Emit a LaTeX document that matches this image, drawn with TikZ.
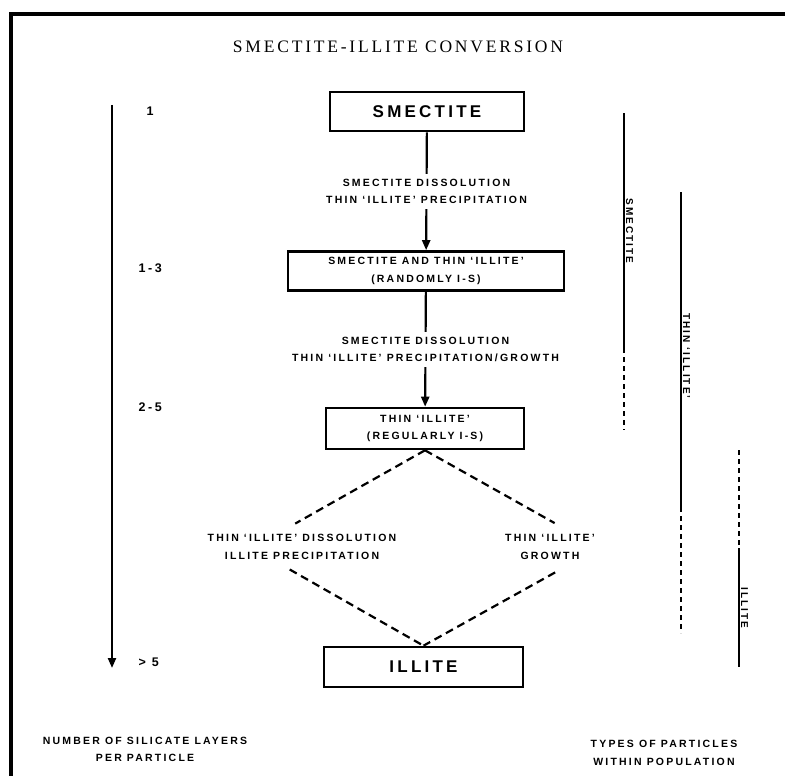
\documentclass[tikz,border=0pt]{standalone}
\usepackage{fontspec}
\setmainfont{Liberation Serif}
\newfontfamily\labfont[LetterSpace=21]{Liberation Sans}
\newfontfamily\boxfont[LetterSpace=19]{Liberation Sans}
\newfontfamily\titlefont[LetterSpace=16]{Liberation Serif}
\usetikzlibrary{arrows.meta,calc}
\begin{document}
\begin{tikzpicture}[x=1pt,y=-1pt,
  stagebox/.style={draw, line width=2.6pt, inner sep=0pt, align=center},
  bigtxt/.style={font=\boxfont\bfseries\fontsize{17}{19}\selectfont},
  smalltxt/.style={font=\labfont\bfseries\fontsize{10.5}{17.5}\selectfont, align=center},
  axistxt/.style={font=\labfont\bfseries\fontsize{12.5}{14}\selectfont},
  bartxt/.style={font=\labfont\bfseries\fontsize{10}{11}\selectfont, rotate=-90, anchor=south, inner sep=0.8pt},
  flowarrow/.style={line width=2.2pt, -{Triangle[length=10pt,width=8pt]}},
  dashline/.style={line width=2.2pt, dash pattern=on 8pt off 5pt},
  solidbar/.style={line width=2.6pt},
  dashbar/.style={line width=2.4pt, dash pattern=on 5pt off 4pt}]
\useasboundingbox (0,0) rectangle (785,776);
% frame
\draw[line width=3.5pt] (11,800) -- (11,14) -- (800,14);
% title
\node[font=\titlefont\fontsize{17.5}{19}\selectfont] (title) at (398,47) {SMECTITE-ILLITE CONVERSION};
% stage boxes
\node[stagebox, bigtxt, minimum width=194pt, minimum height=39pt] (b1) at (427,111.5) {SMECTITE};
\node[stagebox, smalltxt, minimum width=276pt, minimum height=39pt] (b2) at (426,271) {SMECTITE AND THIN ‘ILLITE’\\(RANDOMLY I-S)};
\node[stagebox, smalltxt, minimum width=198pt, minimum height=41pt] (b3) at (425,428.5) {THIN ‘ILLITE’\\(REGULARLY I-S)};
\node[stagebox, bigtxt, minimum width=199pt, minimum height=40pt] (b4) at (423.5,667) {ILLITE};
% flow arrows with labels
\draw[flowarrow] (b1) -- node[smalltxt, fill=white, inner sep=5pt] (l1) {SMECTITE DISSOLUTION\\THIN ‘ILLITE’ PRECIPITATION} (b2);
\draw[flowarrow] (b2) -- node[smalltxt, fill=white, inner sep=5pt] (l2) {SMECTITE DISSOLUTION\\THIN ‘ILLITE’ PRECIPITATION/GROWTH} (b3);
% dashed diamond
\coordinate (L) at (252,548);
\coordinate (R) at (599,548);
\draw[dashline] (b3.south) -- ($(b3.south)!0.75!(L)$);
\draw[dashline] (b3.south) -- ($(b3.south)!0.745!(R)$);
\draw[dashline] ($(L)!0.22!(b4.north)$) -- (b4.north);
\draw[dashline] ($(R)!0.25!(b4.north)$) -- (b4.north);
\node[smalltxt] (l3) at (302,547) {THIN ‘ILLITE’ DISSOLUTION\\ILLITE PRECIPITATION};
\node[smalltxt] (l4) at (550,547) {THIN ‘ILLITE’\\GROWTH};
% left axis
\coordinate (axtop) at (112,105);
\coordinate (axbot) at (112,668);
\draw[flowarrow] (axtop) -- (axbot);
\node[axistxt] (n1) at (150,111) {1};
\node[axistxt, anchor=west] (n2) at (135,268) {1-3};
\node[axistxt, anchor=west] (n3) at (135,407) {2-5};
\node[axistxt, anchor=west] (n4) at (135,662) {> 5};
\node[smalltxt] (axlab) at (145,749.5) {NUMBER OF SILICATE LAYERS\\PER PARTICLE};
% right bars
\coordinate (s1) at (624,113); \coordinate (s2) at (624,348); \coordinate (s3) at (624,430);
\coordinate (t1) at (681,192); \coordinate (t2) at (681,507); \coordinate (t3) at (681,633);
\coordinate (i1) at (739,450); \coordinate (i2) at (739,548); \coordinate (i3) at (739,667);
\draw[solidbar] (s1) -- (s2);
\draw[dashbar] (s2) -- (s3);
\draw[solidbar] (t1) -- (t2);
\draw[dashbar] (t2) -- (t3);
\draw[dashbar] (i1) -- (i2);
\draw[solidbar] (i2) -- (i3);
\node[bartxt] (sl) at (625,231) {SMECTITE};
\node[bartxt] (tl) at (682,356) {THIN ‘ILLITE’};
\node[bartxt] (il) at (740,608) {ILLITE};
\node[smalltxt] (typelab) at (664,753) {TYPES OF PARTICLES\\WITHIN POPULATION};
\end{tikzpicture}
\end{document}
